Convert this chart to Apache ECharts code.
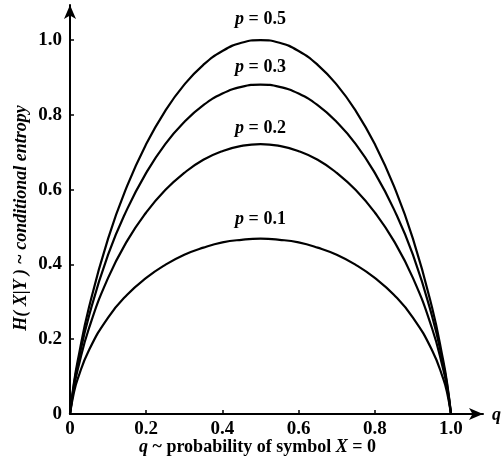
<!DOCTYPE html>
<html>
<head>
<meta charset="utf-8">
<script src="https://cdn.jsdelivr.net/npm/echarts@6/dist/echarts.min.js"></script>
<style>html,body{margin:0;padding:0;background:#fff;}#c{width:502px;height:468px;}</style>
</head>
<body>
<div id="c"></div>
<script>
var qValues = [0,0.01,0.02,0.05,0.1,0.15,0.2,0.25,0.3,0.35,0.4,0.45,0.5,0.55,0.6,0.65,0.7,0.75,0.8,0.85,0.9,0.95,0.98,0.99,1];
var p01 = [0,0.056,0.093,0.171,0.258,0.319,0.364,0.399,0.426,0.445,0.459,0.466,0.469,0.466,0.459,0.445,0.426,0.399,0.364,0.319,0.258,0.171,0.093,0.056,0];
var p02 = [0,0.069,0.118,0.230,0.364,0.463,0.539,0.599,0.645,0.680,0.703,0.717,0.722,0.717,0.703,0.680,0.645,0.599,0.539,0.463,0.364,0.230,0.118,0.069,0];
var p03 = [0,0.076,0.132,0.263,0.426,0.548,0.645,0.722,0.781,0.826,0.857,0.875,0.881,0.875,0.857,0.826,0.781,0.722,0.645,0.548,0.426,0.263,0.132,0.076,0];
var p05 = [0,0.081,0.141,0.286,0.469,0.610,0.722,0.811,0.881,0.934,0.971,0.993,1.0,0.993,0.971,0.934,0.881,0.811,0.722,0.610,0.469,0.286,0.141,0.081,0];
var seriesNames = ['0.1','0.2','0.3','0.5'];
var tickValues = [0,0.2,0.4,0.6,0.8,1.0];
var tickLabels = ['0','0.2','0.4','0.6','0.8','1.0'];

var FONT = '"Liberation Serif", "DejaVu Serif", serif';
var allSeries = [p01, p02, p03, p05];
var labelDist = [9.5, 6, 7.5, 11];
var peakIndex = qValues.indexOf(0.5);

var chart = echarts.init(document.getElementById('c'), null, {renderer: 'canvas'});

var series = allSeries.map(function (vals, si) {
  var data = qValues.map(function (q, i) { return [q, vals[i]]; });
  return {
    type: 'line',
    name: 'p = ' + seriesNames[si],
    data: data,
    smooth: true,
    showSymbol: false,
    symbol: 'none',
    lineStyle: { color: '#000', width: 2.2 },
    silent: true,
    animation: false,
    z: 3,
    markPoint: {
      silent: true,
      animation: false,
      symbol: 'circle',
      symbolSize: 1,
      itemStyle: { color: 'rgba(0,0,0,0)' },
      label: {
        show: true,
        position: 'top',
        distance: labelDist[si],
        formatter: '{i|p} = ' + seriesNames[si],
        fontFamily: FONT, fontSize: 18, fontWeight: 'bold', color: '#000',
        rich: { i: { fontFamily: FONT, fontSize: 18, fontStyle: 'italic', fontWeight: 'bold', color: '#000' } }
      },
      data: [{ coord: [qValues[peakIndex], vals[peakIndex]] }]
    }
  };
});

var option = {
  backgroundColor: '#fff',
  animation: false,
  grid: { left: 70, right: 19, top: 5, bottom: 54, containLabel: false },
  xAxis: {
    type: 'value', min: 0, max: 1.084,
    name: '{i|q} ~ probability of symbol {i|X} = 0',
    nameLocation: 'middle', nameGap: 24, nameMoveOverlap: false,
    nameTextStyle: {
      fontFamily: FONT, fontSize: 18, fontWeight: 'bold', color: '#000',
      padding: [0, 38, 0, 0],
      rich: { i: { fontFamily: FONT, fontSize: 18, fontStyle: 'italic', fontWeight: 'bold', color: '#000' } }
    },
    axisLine: { show: true, lineStyle: { color: '#000', width: 2 }, symbol: ['none', 'arrow'], symbolSize: [9, 14] },
    axisTick: { show: true, inside: true, length: 4, lineStyle: { color: '#000', width: 1.5 }, customValues: tickValues.slice(1) },
    axisLabel: {
      customValues: tickValues, margin: 6,
      formatter: function (v) { var i = tickValues.indexOf(+v.toFixed(2)); return i >= 0 ? tickLabels[i] : ''; },
      fontFamily: FONT, fontSize: 19, fontWeight: 'bold', color: '#000'
    },
    splitLine: { show: false }
  },
  yAxis: {
    type: 'value', min: 0, max: 1.094,
    name: '{i|H( X|Y ) ~ conditional entropy}',
    nameLocation: 'middle', nameGap: 40, nameRotate: 90, nameMoveOverlap: false,
    nameTextStyle: {
      fontFamily: FONT, fontSize: 18, color: '#000',
      padding: [0, 17, 0, 0],
      rich: { i: { fontFamily: FONT, fontSize: 18, fontStyle: 'italic', fontWeight: 'bold', color: '#000' } }
    },
    axisLine: { show: true, lineStyle: { color: '#000', width: 2 }, symbol: ['none', 'arrow'], symbolSize: [9, 14] },
    axisTick: { show: true, inside: true, length: 4, lineStyle: { color: '#000', width: 1.5 }, customValues: tickValues.slice(1) },
    axisLabel: {
      customValues: tickValues, margin: 8,
      formatter: function (v) { var i = tickValues.indexOf(+v.toFixed(2)); return i >= 0 ? tickLabels[i] : ''; },
      fontFamily: FONT, fontSize: 19, fontWeight: 'bold', color: '#000'
    },
    splitLine: { show: false }
  },
  graphic: [{
    type: 'text', right: 1, top: 406,
    style: { text: 'q', font: 'italic bold 18px ' + FONT, fill: '#000' }
  }],
  series: series
};
chart.setOption(option);
</script>
</body>
</html>
